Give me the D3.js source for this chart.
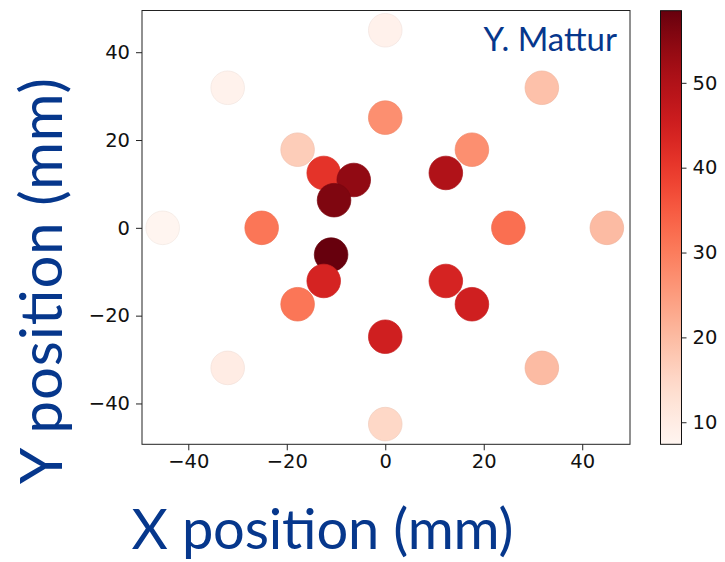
<!DOCTYPE html>
<html>
<head>
<meta charset="utf-8">
<script src="https://cdn.jsdelivr.net/npm/d3@7"></script>
<style>
  body { margin: 0; background: #fff; }
  svg { display: block; }
</style>
</head>
<body>
<div id="output"></div>
<script>
// sensor positions (mm) and measured values
var xPos = [0, -32, 31.8, 0, -17.8, 17.6, -12.5, -6.4, -10.4, 12.3,
            -45.2, -25.1, 25, 45, -11, -12.5, -17.8, 12.3, 17.6, 0,
            -32, 31.8, 0];
var yPos = [45, 31.9, 31.9, 25.1, 17.8, 17.8, 12.5, 10.9, 6.3, 12.5,
            0, 0, 0, 0, -6.1, -12.1, -17.4, -12.1, -17.4, -24.8,
            -31.9, -31.9, -44.7];
var values = [8.5, 8.2, 19, 27, 17, 27, 41, 54, 56, 50,
              7.4, 31, 32, 20, 58.5, 44, 31, 44, 45, 45,
              10, 20, 15];
var axisTicks = [-40, -20, 0, 20, 40];
var colorTicks = [10, 20, 30, 40, 50];
var colorRange = [7.4, 58.5];

var W = 725, H = 562;
var svg = d3.select("#output").append("svg")
  .attr("width", W)
  .attr("height", H);

var x = d3.scaleLinear().domain([-49.4, 49.7]).range([142, 630]);
var y = d3.scaleLinear().domain([-49.3, 49.5]).range([444.3, 10.5]);
var color = d3.scaleSequential(d3.interpolateReds).domain(colorRange);

var tickFont = "'DejaVu Sans', sans-serif";
var blue = "#06378c";

// frame
svg.append("rect")
  .attr("x", 142).attr("y", 10.5)
  .attr("width", 488).attr("height", 433.8)
  .attr("fill", "white")
  .attr("stroke", "#222").attr("stroke-width", 1);

// points
var pts = values.map(function (v, i) { return {x: xPos[i], y: yPos[i], v: v}; });
svg.append("g").selectAll("circle")
  .data(pts)
  .enter().append("circle")
  .attr("cx", function (d) { return x(d.x); })
  .attr("cy", function (d) { return y(d.y); })
  .attr("r", 16.8)
  .attr("fill", function (d) { return color(d.v); })
  .attr("stroke", function (d) { return d3.color(color(d.v)).darker(0.15); })
  .attr("stroke-width", 0.7);

// x axis
var xAxis = svg.append("g")
  .attr("transform", "translate(0,444.3)")
  .call(d3.axisBottom(x).tickValues(axisTicks).tickSize(6).tickPadding(4)
    .tickFormat(function (d) { return d < 0 ? "\u2212" + Math.abs(d) : d; }));
xAxis.select(".domain").remove();
xAxis.selectAll("text").attr("font-family", tickFont).attr("font-size", 19.5).attr("fill", "#111");
xAxis.selectAll("line").attr("stroke", "#222");

// y axis
var yAxis = svg.append("g")
  .attr("transform", "translate(142,0)")
  .call(d3.axisLeft(y).tickValues(axisTicks).tickSize(6).tickPadding(6)
    .tickFormat(function (d) { return d < 0 ? "\u2212" + Math.abs(d) : d; }));
yAxis.select(".domain").remove();
yAxis.selectAll("text").attr("font-family", tickFont).attr("font-size", 19.5).attr("fill", "#111");
yAxis.selectAll("line").attr("stroke", "#222");

// colorbar
var cbX = 660.5, cbW = 21;
var cb = d3.scaleLinear().domain(colorRange).range([444.3, 10.7]);
var defs = svg.append("defs");
var grad = defs.append("linearGradient")
  .attr("id", "cbgrad")
  .attr("x1", 0).attr("y1", 1).attr("x2", 0).attr("y2", 0);
d3.range(0, 1.0001, 0.05).forEach(function (t) {
  grad.append("stop")
    .attr("offset", t)
    .attr("stop-color", d3.interpolateReds(t));
});
svg.append("rect")
  .attr("x", cbX).attr("y", 10.7)
  .attr("width", cbW).attr("height", 433.6)
  .attr("fill", "url(#cbgrad)")
  .attr("stroke", "#111").attr("stroke-width", 1);

var cAxis = svg.append("g")
  .attr("transform", "translate(" + (cbX + cbW) + ",0)")
  .call(d3.axisRight(cb).tickValues(colorTicks).tickSize(5).tickPadding(6));
cAxis.select(".domain").remove();
cAxis.selectAll("text").attr("font-family", tickFont).attr("font-size", 19.5).attr("fill", "#111");
cAxis.selectAll("line").attr("stroke", "#222");

// author tag
svg.append("text")
  .attr("x", 617)
  .attr("y", 50.5)
  .attr("text-anchor", "end")
  .attr("font-family", "Lato, 'Open Sans', sans-serif")
  .attr("font-size", 33)
  .attr("fill", blue)
  .text("Y. Mattur");

// axis titles
svg.append("text")
  .attr("x", 322.5)
  .attr("y", 549)
  .attr("text-anchor", "middle")
  .attr("font-family", "Lato, 'Open Sans', sans-serif")
  .attr("font-size", 56)
  .attr("textLength", 382)
  .attr("fill", blue)
  .text("X position (mm)");

svg.append("text")
  .attr("transform", "translate(62,281) rotate(-90)")
  .attr("text-anchor", "middle")
  .attr("font-family", "Lato, 'Open Sans', sans-serif")
  .attr("font-size", 58)
  .attr("textLength", 406)
  .attr("fill", blue)
  .text("Y position (mm)");
</script>
</body>
</html>
